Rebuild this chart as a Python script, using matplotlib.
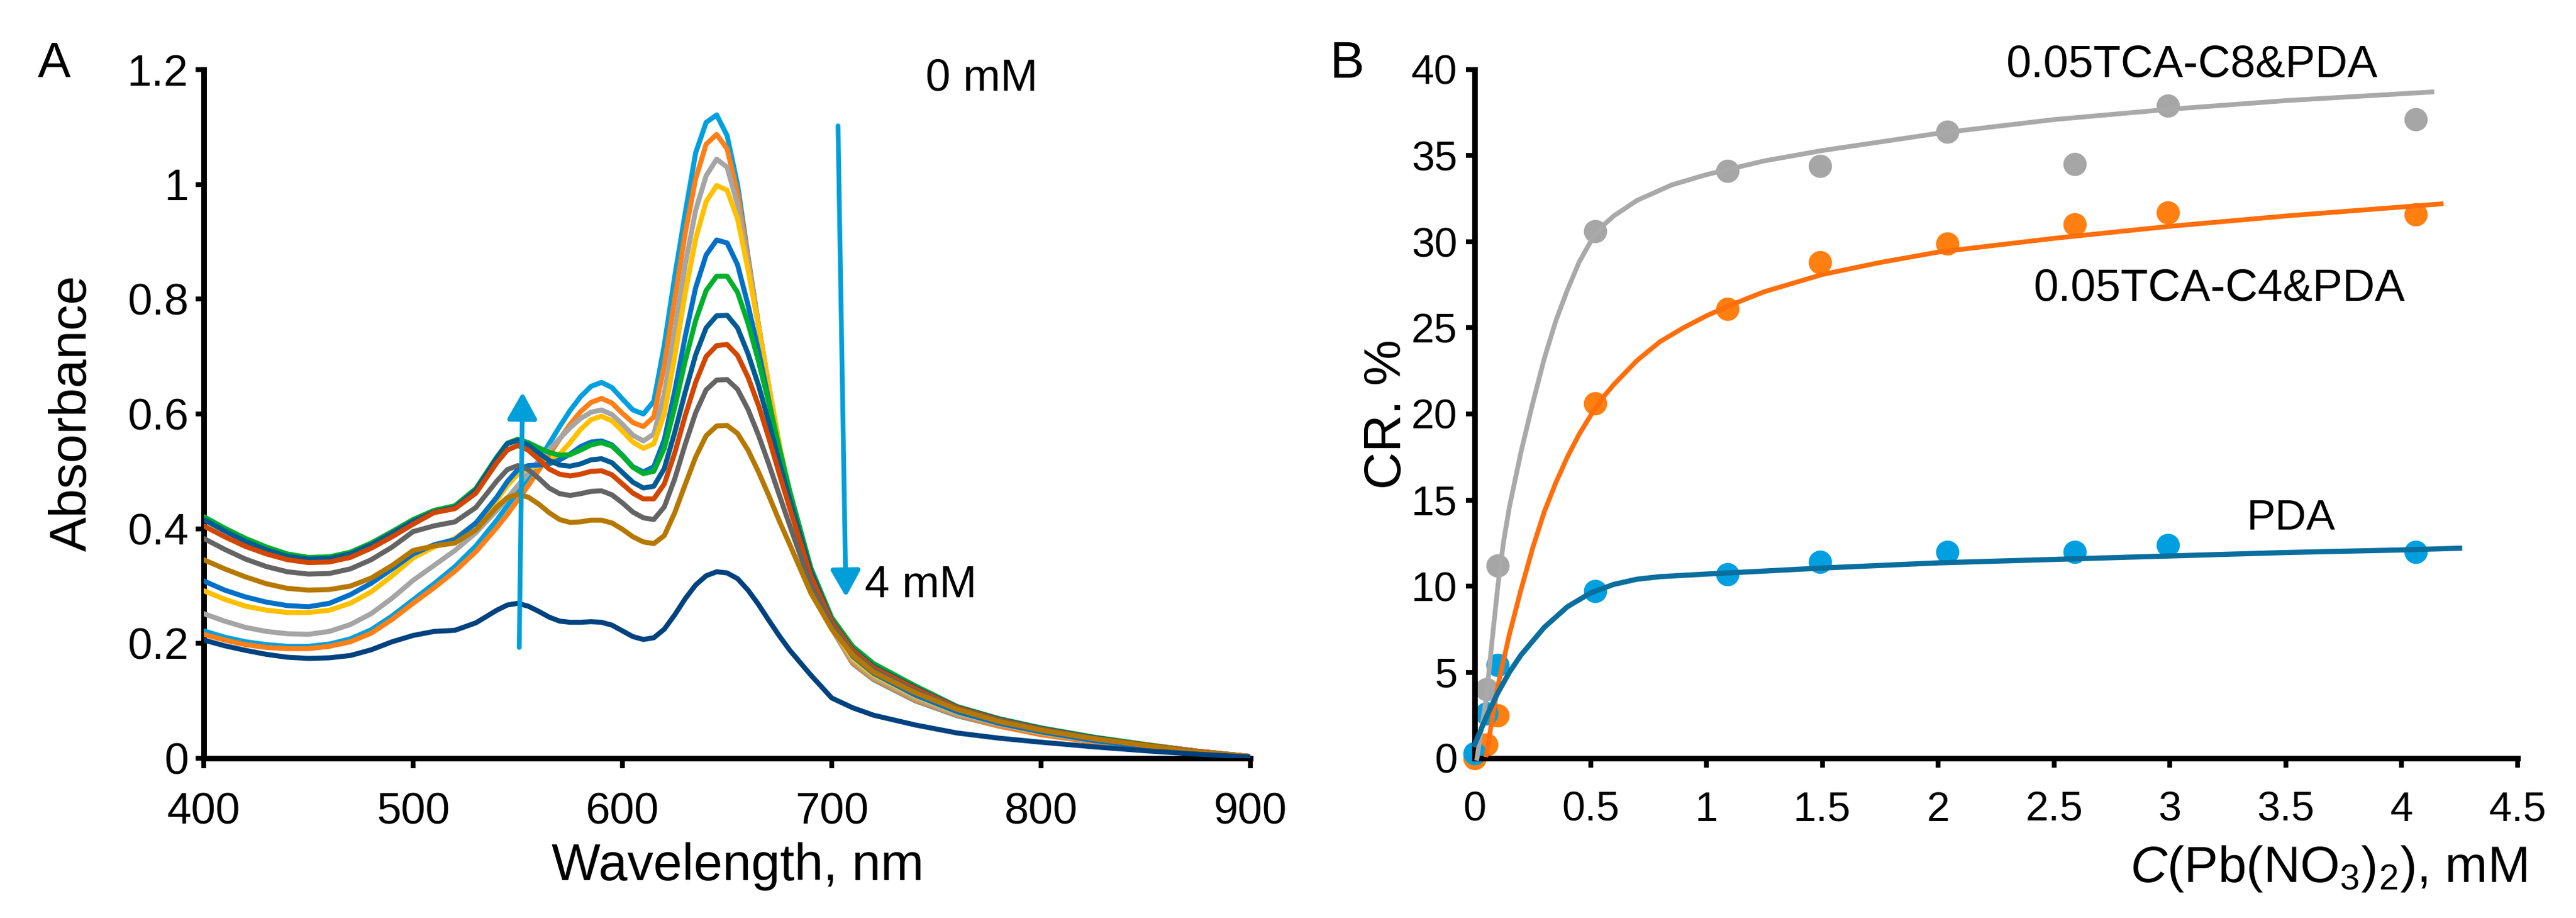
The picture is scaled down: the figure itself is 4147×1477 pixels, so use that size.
import matplotlib
matplotlib.use("Agg")
import matplotlib.pyplot as plt

plt.rcParams['font.family'] = ['Liberation Sans', 'DejaVu Sans']
plt.rcParams['mathtext.fontset'] = 'custom'
plt.rcParams['mathtext.rm'] = 'Liberation Sans'
plt.rcParams['mathtext.it'] = 'Liberation Sans:italic'

# ---------------- Panel A data: UV-vis spectra ----------------
wavelength = [400, 410, 420, 430, 440, 450, 460, 470, 480, 490, 500, 510, 520, 530,
              540, 545, 550, 555, 560, 565, 570, 575, 580, 585, 590, 595, 600, 605,
              610, 615, 620, 625, 630, 635, 640, 645, 650, 655, 660, 665, 670, 675,
              680, 690, 700, 710, 720, 740, 760, 780, 800, 825, 850, 875, 900]

abs_c01 = [.222, .211, .203, .198, .195, .195, .199, .208, .224, .248, .276, .304, .334, .370,
           .415, .440, .464, .490, .518, .548, .578, .606, .630, .648, .655, .646, .626, .607,
           .600, .622, .720, .840, .950, 1.055, 1.108, 1.121, 1.085, 1.000, .875, .755, .645, .543,
           .452, .315, .226, .165, .137, .100, .074, .056, .042, .028, .018, .009, .002]
abs_c02 = [.216, .206, .198, .193, .191, .191, .195, .203, .218, .242, .270, .297, .326, .360,
           .402, .425, .450, .475, .502, .529, .556, .582, .604, .620, .627, .619, .601, .585,
           .578, .595, .685, .800, .915, 1.010, 1.070, 1.087, 1.062, .985, .872, .755, .645, .543,
           .453, .316, .226, .166, .138, .101, .075, .056, .041, .028, .018, .009, .002]
abs_c03 = [.252, .239, .228, .221, .217, .216, .221, .233, .252, .279, .310, .336, .362, .393,
           .432, .453, .475, .497, .518, .538, .557, .576, .592, .603, .607, .599, .582, .563,
           .553, .565, .635, .745, .860, .955, 1.015, 1.044, 1.030, .965, .865, .755, .647, .545,
           .455, .317, .226, .170, .141, .104, .077, .059, .044, .030, .019, .010, .002]
abs_c04 = [.292, .277, .265, .258, .254, .254, .258, .270, .290, .318, .349, .368, .383, .410,
           .450, .475, .495, .504, .510, .518, .530, .550, .573, .590, .596, .588, .570, .551,
           .540, .548, .600, .700, .810, .905, .970, .998, .990, .940, .852, .752, .648, .547,
           .457, .318, .228, .174, .145, .108, .080, .061, .045, .031, .020, .010, .002]
abs_c05 = [.309, .293, .281, .272, .266, .264, .270, .285, .305, .330, .356, .372, .381, .410,
           .455, .482, .503, .510, .511, .513, .520, .530, .543, .551, .553, .546, .528, .508,
           .499, .508, .555, .640, .735, .820, .877, .903, .898, .860, .790, .710, .622, .535,
           .455, .320, .232, .178, .148, .110, .081, .061, .046, .031, .020, .010, .002]
abs_c06 = [.421, .401, .383, .368, .356, .350, .351, .359, .375, .395, .416, .432, .440, .470,
           .525, .549, .556, .550, .541, .533, .528, .529, .537, .546, .550, .544, .527, .507,
           .496, .500, .540, .612, .692, .763, .815, .840, .840, .812, .758, .692, .618, .540,
           .465, .332, .245, .195, .165, .126, .090, .069, .053, .037, .024, .012, .003]
abs_c07 = [.416, .396, .378, .363, .352, .347, .348, .356, .372, .392, .413, .429, .437, .467,
           .523, .548, .554, .546, .532, .519, .511, .509, .513, .520, .522, .515, .498, .481,
           .471, .474, .505, .568, .638, .703, .750, .771, .772, .750, .705, .650, .585, .515,
           .450, .326, .240, .190, .160, .123, .089, .068, .052, .036, .023, .012, .003]
abs_c08 = [.405, .386, .369, .356, .346, .341, .342, .350, .366, .386, .408, .428, .435, .462,
           .515, .537, .545, .537, .521, .504, .495, .492, .495, .500, .501, .494, .478, .462,
           .452, .452, .478, .532, .597, .655, .700, .719, .721, .702, .664, .615, .557, .495,
           .435, .318, .238, .188, .158, .121, .088, .067, .051, .035, .023, .012, .003]
abs_c09 = [.383, .364, .347, .334, .325, .321, .322, .330, .346, .368, .395, .405, .412, .437,
           .483, .503, .510, .503, .488, .471, .461, .458, .461, .465, .466, .459, .445, .429,
           .419, .416, .438, .487, .547, .602, .642, .659, .660, .643, .608, .563, .512, .458,
           .405, .302, .232, .183, .154, .117, .086, .066, .050, .035, .022, .011, .003]
abs_c10 = [.346, .330, .316, .304, .296, .293, .294, .300, .314, .336, .362, .370, .375, .398,
           .438, .454, .460, .455, .443, .428, .416, .411, .412, .415, .415, .410, .399, .386,
           .377, .374, .388, .428, .477, .525, .562, .579, .580, .566, .537, .499, .457, .413,
           .372, .288, .225, .180, .150, .114, .085, .064, .049, .034, .022, .011, .003]
abs_c11 = [.206, .196, .188, .181, .176, .174, .175, .179, .189, .203, .214, .221, .223, .236,
           .258, .267, .270, .265, .256, .246, .239, .237, .237, .238, .237, .232, .222, .212,
           .207, .210, .225, .250, .278, .302, .318, .325, .323, .313, .293, .268, .240, .213,
           .188, .145, .105, .088, .075, .058, .044, .035, .028, .020, .013, .007, .002]

spectra = [abs_c01, abs_c02, abs_c03, abs_c04, abs_c05, abs_c06,
           abs_c07, abs_c08, abs_c09, abs_c10, abs_c11]
spec_colors = ['#009FDF', '#FF7F17', '#A5A5A5', '#FFC000', '#0070C8', '#00B02C',
               '#005B94', '#D24600', '#646464', '#B67800', '#00427F']

a_xticks = [400, 500, 600, 700, 800, 900]
a_yticks = [0, 0.2, 0.4, 0.6, 0.8, 1.0, 1.2]
a_yticklabels = ['0', '0.2', '0.4', '0.6', '0.8', '1', '1.2']

# ---------------- Panel B data: colorimetric response ----------------
conc = [0, 0.05, 0.1, 0.52, 1.09, 1.49, 2.04, 2.59, 2.99, 4.06]
cr_pda = [0.3, 2.6, 5.4, 9.7, 10.7, 11.4, 12.0, 12.0, 12.4, 12.0]
cr_c4 = [0.0, 0.8, 2.5, 20.6, 26.1, 28.8, 29.9, 31.0, 31.7, 31.6]
cr_c8 = [0.2, 4.0, 11.2, 30.6, 34.1, 34.4, 36.4, 34.5, 37.9, 37.1]

fit_pda_x = [0.0, 0.05, 0.1, 0.15, 0.2, 0.3, 0.4, 0.5, 0.6, 0.7, 0.8, 1.0, 1.5, 2.0,
             2.5, 3.0, 3.5, 4.0, 4.25]
fit_pda_y = [0.8, 2.4, 3.8, 5.0, 6.0, 7.6, 8.8, 9.6, 10.1, 10.4, 10.55, 10.7, 11.05,
             11.35, 11.55, 11.75, 11.95, 12.1, 12.2]
fit_c4_x = [0.05, 0.075, 0.1, 0.15, 0.2, 0.25, 0.3, 0.35, 0.4, 0.45, 0.5, 0.55, 0.6,
            0.7, 0.8, 0.9, 1.0, 1.1, 1.25, 1.5, 1.75, 2.0, 2.5, 3.0, 3.5, 4.17]
fit_c4_y = [0.2, 2.2, 4.2, 7.2, 9.8, 12.2, 14.3, 16.0, 17.5, 18.8, 19.9, 20.9, 21.7,
            23.1, 24.2, 25.0, 25.7, 26.3, 27.1, 28.1, 28.8, 29.4, 30.2, 30.9, 31.5, 32.2]
fit_c8_x = [0.01, 0.05, 0.075, 0.1, 0.125, 0.15, 0.2, 0.25, 0.3, 0.35, 0.4, 0.45, 0.5,
            0.55, 0.6, 0.7, 0.85, 1.0, 1.25, 1.5, 2.0, 2.5, 3.0, 3.5, 4.13]
fit_c8_y = [0.0, 3.5, 6.8, 10.0, 12.6, 14.6, 17.8, 20.6, 23.2, 25.4, 27.2, 28.8, 30.0,
            30.9, 31.5, 32.4, 33.3, 33.9, 34.7, 35.3, 36.3, 37.1, 37.7, 38.2, 38.7]

b_xticks = [0, 0.5, 1, 1.5, 2, 2.5, 3, 3.5, 4, 4.5]
b_xticklabels = ['0', '0.5', '1', '1.5', '2', '2.5', '3', '3.5', '4', '4.5']
b_yticks = [0, 5, 10, 15, 20, 25, 30, 35, 40]

# ---------------- Figure ----------------
W, H = 4147, 1477
fig = plt.figure(figsize=(W / 100, H / 100), dpi=100)


def fx(px):
    return px / W


def fy(py):
    return 1 - py / H


axA = fig.add_axes([fx(328), fy(1220), (2013 - 328) / W, (1220 - 112) / H])
axB = fig.add_axes([fx(2374), fy(1220), (4053 - 2374) / W, (1220 - 112) / H])

for ax in (axA, axB):
    for s in ('top', 'right'):
        ax.spines[s].set_visible(False)
    for s in ('left', 'bottom'):
        ax.spines[s].set_linewidth(6.5)
        ax.spines[s].set_capstyle('projecting')

# Panel A
for vals, col in zip(spectra, spec_colors):
    axA.plot(wavelength, vals, color=col, lw=5.8, solid_joinstyle='round',
             solid_capstyle='round', zorder=3)
axA.set_xlim(400, 900)
axA.set_ylim(0, 1.2)
axA.set_xticks(a_xticks)
axA.set_yticks(a_yticks)
axA.set_yticklabels(a_yticklabels)
axA.tick_params(axis='y', direction='out', length=9.5, width=5.5, pad=8, labelsize=51)
axA.tick_params(axis='x', direction='out', length=11.5, width=5.5, pad=28, labelsize=51)

arrow_col = '#009FDA'
axA.annotate('', xy=(706.8, 0.281), xytext=(703.0, 1.102),
             arrowprops=dict(arrowstyle='-|>,head_length=0.5,head_width=0.28',
                             mutation_scale=52, lw=5.5, color=arrow_col,
                             shrinkA=0, shrinkB=0), zorder=5)
axA.annotate('', xy=(552.3, 0.638), xytext=(550.7, 0.193),
             arrowprops=dict(arrowstyle='-|>,head_length=0.5,head_width=0.28',
                             mutation_scale=52, lw=5.5, color=arrow_col,
                             shrinkA=0, shrinkB=0), zorder=5)

# Panel B
axB.plot(conc, cr_c8, 'o', color='#A6A6A6', ms=27, mec='none', zorder=2, clip_on=False)
axB.plot(conc, cr_c4, 'o', color='#FF7F10', ms=27, mec='none', zorder=2, clip_on=False)
axB.plot(conc, cr_pda, 'o', color='#00A0E0', ms=27, mec='none', zorder=2, clip_on=False)
axB.plot(fit_c8_x, fit_c8_y, color='#A9A9A9', lw=5.5, zorder=3, clip_on=False)
axB.plot(fit_c4_x, fit_c4_y, color='#FF6E0A', lw=5.5, zorder=3, clip_on=False)
axB.plot(fit_pda_x, fit_pda_y, color='#0A6E9E', lw=6, zorder=3, clip_on=False)
axB.set_xlim(0, 4.5)
axB.set_ylim(0, 40)
axB.set_xticks(b_xticks)
axB.set_xticklabels(b_xticklabels)
axB.set_yticks(b_yticks)
axB.tick_params(axis='y', direction='out', length=10, width=5.5, pad=10, labelsize=48)
axB.tick_params(axis='x', direction='out', length=11, width=5.5, pad=27, labelsize=48)

# Texts
fig.text(fx(87), fy(124), 'A', ha='center', va='baseline', fontsize=57)
fig.text(fx(2168), fy(125), 'B', ha='center', va='baseline', fontsize=60)
fig.text(fx(117), fy(665), 'Absorbance', rotation=90, ha='center', va='center', fontsize=60)
fig.text(fx(1188), fy(1416), 'Wavelength, nm', ha='center', va='baseline', fontsize=60)
fig.text(fx(1490), fy(145), '0 mM', ha='left', va='baseline', fontsize=52)
fig.text(fx(1392), fy(961), '4 mM', ha='left', va='baseline', fontsize=52)
fig.text(fx(2233), fy(667), 'CR. %', rotation=90, ha='center', va='center', fontsize=60)
fig.text(fx(4068), fy(1419), r'$C$(Pb(NO$_3$)$_2$), mM', ha='right', va='baseline',
         fontsize=59)
fig.text(fx(3528), fy(124), '0.05TCA-C8&PDA', ha='center', va='baseline', fontsize=52)
fig.text(fx(3572), fy(484), '0.05TCA-C4&PDA', ha='center', va='baseline', fontsize=52)
fig.text(fx(3688), fy(852), 'PDA', ha='center', va='baseline', fontsize=50)

fig.savefig('out.png', dpi=100)
